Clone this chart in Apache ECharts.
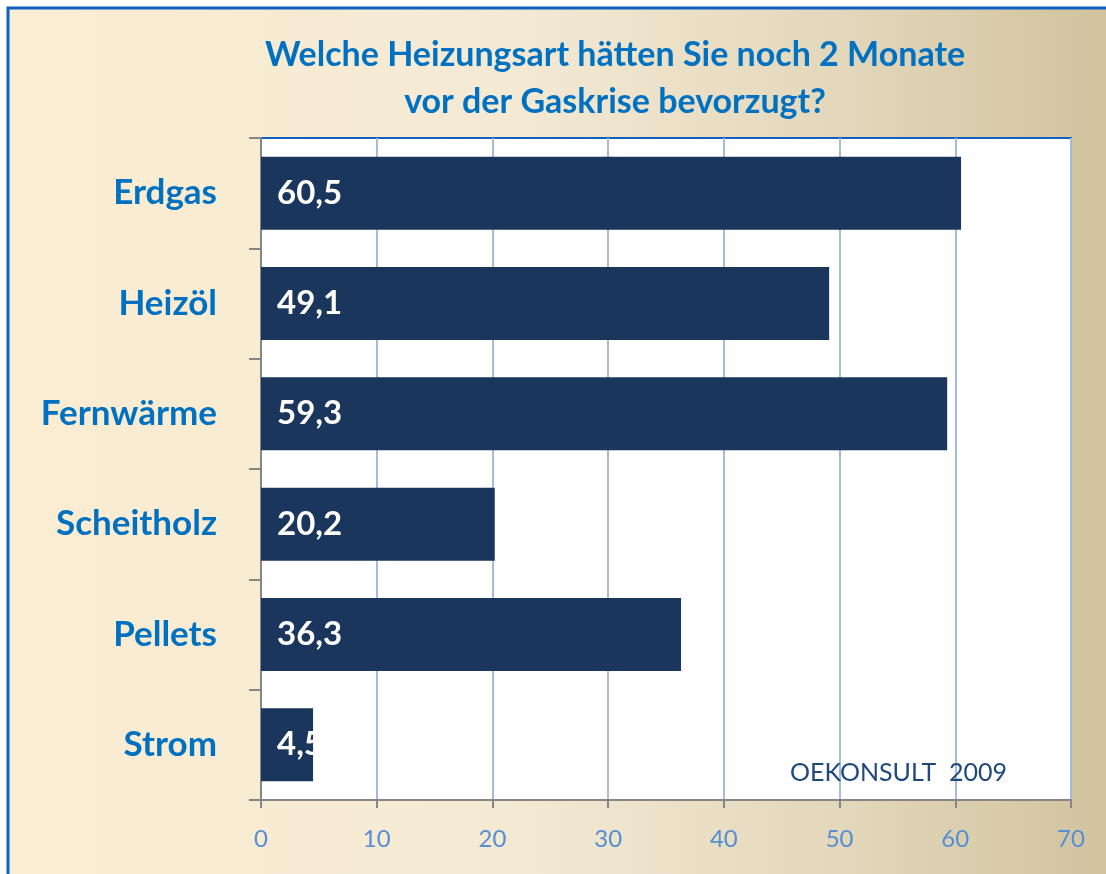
<!DOCTYPE html>
<html lang="de">
<head>
    <meta charset="utf-8">
    <title>Heizungsart</title>
    <script src="https://cdn.jsdelivr.net/npm/echarts@6/dist/echarts.min.js"></script>
    <style>
        html, body { margin: 0; padding: 0; background: #fff; }
        #container { width: 1106px; height: 874px; }
    </style>
</head>
<body>
<div id="container"></div>
<script>
    // Daten
    var categories = ['Erdgas', 'Heizöl', 'Fernwärme', 'Scheitholz', 'Pellets', 'Strom'];
    var values = [60.5, 49.1, 59.3, 20.2, 36.3, 4.5];
    var axisMax = 70;
    var axisStep = 10;

    var myChart = echarts.init(document.getElementById('container'));
    var font = 'Lato, "Open Sans", sans-serif';

    var option = {
        animation: false,
        title: {
            text: 'Welche Heizungsart hätten Sie noch 2 Monate\nvor der Gaskrise bevorzugt?',
            left: 610,
            top: 27,
            textAlign: 'center',
            textStyle: {
                fontFamily: font,
                fontSize: 34,
                fontWeight: 'bold',
                color: '#0070C0',
                lineHeight: 47
            }
        },
        graphic: [
            {
                type: 'rect',
                z: -10,
                silent: true,
                shape: { x: 8, y: 8, width: 1120, height: 900 },
                style: {
                    fill: new echarts.graphic.LinearGradient(0, 0, 1, 0, [
                        { offset: 0, color: '#FBEDD2' },
                        { offset: 0.45, color: '#F4EAD4' },
                        { offset: 0.75, color: '#E2D7BA' },
                        { offset: 1, color: '#D1C19C' }
                    ]),
                    stroke: '#1060C0',
                    lineWidth: 3
                }
            },
            {
                type: 'text',
                z: 100,
                left: 790,
                top: 760,
                style: {
                    text: 'OEKONSULT  2009',
                    fontFamily: font,
                    fontSize: 25,
                    fill: '#1F497D'
                }
            }
        ],
        grid: {
            left: 261,
            right: 35,
            top: 138,
            bottom: 74,
            show: true,
            backgroundColor: '#ffffff',
            borderColor: '#1060C0',
            borderWidth: 2
        },
        xAxis: {
            type: 'value',
            min: 0,
            max: axisMax,
            interval: axisStep,
            axisLine: { show: true, lineStyle: { color: '#868686', width: 2 } },
            axisTick: { show: true, length: 8, lineStyle: { color: '#868686', width: 2 } },
            splitLine: { show: true, lineStyle: { color: '#A3BCDD', width: 2 } },
            axisLabel: {
                margin: 27,
                fontFamily: font,
                fontSize: 24,
                color: '#558ED5'
            }
        },
        yAxis: {
            type: 'category',
            data: categories,
            inverse: true,
            axisLine: { show: true, lineStyle: { color: '#868686', width: 2 } },
            axisTick: { show: true, length: 12, lineStyle: { color: '#868686', width: 2 } },
            axisLabel: {
                margin: 44,
                fontFamily: font,
                fontSize: 35,
                fontWeight: 'bold',
                color: '#0070C0'
            }
        },
        series: [
            {
                type: 'bar',
                data: values,
                barWidth: 73,
                itemStyle: { color: '#1B365D' },
                label: {
                    show: true,
                    position: 'insideLeft',
                    distance: 16,
                    fontFamily: font,
                    fontSize: 33,
                    fontWeight: 'bold',
                    color: '#ffffff',
                    formatter: function (p) {
                        return p.value.toFixed(1).replace('.', ',');
                    }
                }
            }
        ]
    };
    myChart.setOption(option);
</script>
</body>
</html>
